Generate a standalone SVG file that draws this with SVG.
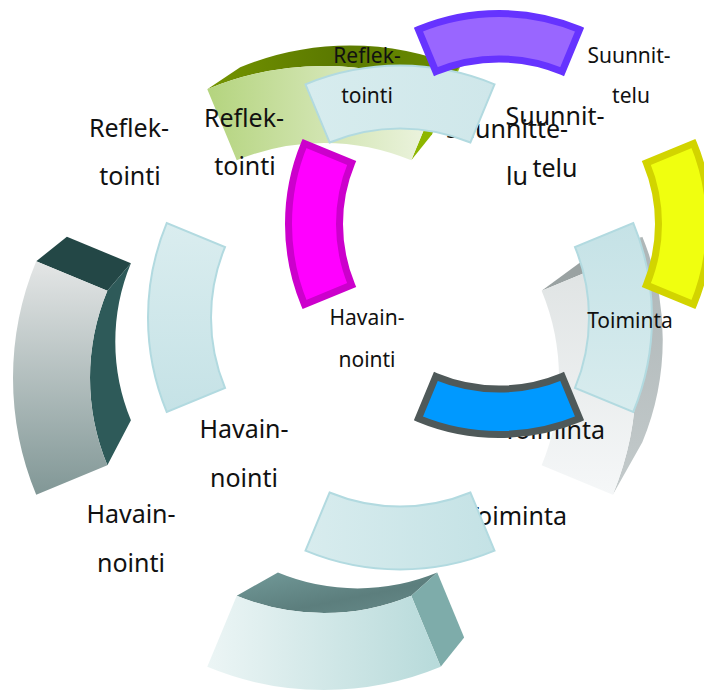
<svg xmlns="http://www.w3.org/2000/svg" width="704" height="690" viewBox="0 0 704 690">
  <defs>
    <!-- extruded ring faces -->
    <linearGradient id="leftFront" x1="0" y1="0" x2="0" y2="1">
      <stop offset="0" stop-color="#E4E6E6"/>
      <stop offset="1" stop-color="#819796"/>
    </linearGradient>
    <linearGradient id="bottomFront" x1="0" y1="0" x2="1" y2="0">
      <stop offset="0" stop-color="#ECF5F5"/>
      <stop offset="1" stop-color="#B7DADA"/>
    </linearGradient>
    <linearGradient id="bottomTop" x1="0" y1="0" x2="1" y2="1">
      <stop offset="0" stop-color="#729A99"/>
      <stop offset="0.6" stop-color="#5C7E7D"/>
      <stop offset="1" stop-color="#678B8A"/>
    </linearGradient>
    <linearGradient id="rightFront" x1="0" y1="0" x2="0" y2="1">
      <stop offset="0" stop-color="#DFE3E3"/>
      <stop offset="1" stop-color="#F5F7F8"/>
    </linearGradient>
    <linearGradient id="rightSide" x1="0" y1="0" x2="0" y2="1">
      <stop offset="0" stop-color="#AEB6B7"/>
      <stop offset="1" stop-color="#C3CACB"/>
    </linearGradient>
    <linearGradient id="topFront" x1="0" y1="0" x2="1" y2="0">
      <stop offset="0" stop-color="#B4D47E"/>
      <stop offset="1" stop-color="#EFF5E4"/>
    </linearGradient>
    <linearGradient id="topTop" x1="0" y1="0" x2="1" y2="0">
      <stop offset="0" stop-color="#749400"/>
      <stop offset="0.5" stop-color="#5B7900"/>
      <stop offset="1" stop-color="#6A8C00"/>
    </linearGradient>
    <!-- flat pale ring -->
    <linearGradient id="paleV" x1="0" y1="0" x2="0" y2="1">
      <stop offset="0" stop-color="#DAEDEF"/>
      <stop offset="1" stop-color="#C5E2E6"/>
    </linearGradient>
    <linearGradient id="paleVr" x1="0" y1="0" x2="0" y2="1">
      <stop offset="0" stop-color="#C5E2E6"/>
      <stop offset="1" stop-color="#D8ECEE"/>
    </linearGradient>
    <linearGradient id="paleH" x1="0" y1="0" x2="1" y2="0">
      <stop offset="0" stop-color="#D8ECEE"/>
      <stop offset="1" stop-color="#C4E2E5"/>
    </linearGradient>
    <linearGradient id="paleHt" x1="0" y1="0" x2="1" y2="0">
      <stop offset="0" stop-color="#D7ECEE"/>
      <stop offset="1" stop-color="#CFE7EA"/>
    </linearGradient>
    <style>
      text { font-family: "Noto Sans", "DejaVu Sans", sans-serif; fill: #111; text-anchor: middle; }
      .big { font-size: 25px; }
      .small { font-size: 21px; }
      .pale { stroke: #B2DAE0; stroke-width: 2; }
      .solid { stroke-width: 7; stroke-linejoin: miter; }
    </style>
  </defs>

  <!-- extruded ring -->
  <g id="ring3d">
    <g id="seg3d-top">
      <path d="M207.28,89.22 A305,305 0 0 1 440.72,89.22 L459.85,67.26 A287,287 0 0 0 240.19,67.26 Z" fill="url(#topTop)"/>
      <path d="M440.72,89.22 L459.85,67.26 L432.12,134.20 L411.25,160.36 Z" fill="#8DB600"/>
      <path d="M207.28,89.22 A305,305 0 0 1 440.72,89.22 L411.25,160.36 A228,228 0 0 0 236.75,160.36 Z" fill="url(#topFront)"/>
    </g>
    <g id="seg3d-right">
      <path d="M612.78,261.28 A305,305 0 0 1 612.78,494.72 L642.33,442.19 A268.4,268.4 0 0 0 642.33,236.77 Z" fill="url(#rightSide)"/>
      <path d="M541.64,290.75 L579.72,262.70 L642.33,236.77 L612.78,261.28 Z" fill="#9AA2A2"/>
      <path d="M541.64,290.75 L612.78,261.28 A305,305 0 0 1 612.78,494.72 L541.64,465.25 A228,228 0 0 0 541.64,290.75 Z" fill="url(#rightFront)"/>
    </g>
    <g id="seg3d-bottom">
      <path d="M236.75,595.64 A228,228 0 0 0 411.25,595.64 L437.24,572.53 A208.16,208.16 0 0 1 277.92,572.53 Z" fill="url(#bottomTop)"/>
      <path d="M411.25,595.64 L437.24,572.53 L464.15,637.48 L440.72,666.78 Z" fill="#7EACAA"/>
      <path d="M236.75,595.64 A228,228 0 0 0 411.25,595.64 L440.72,666.78 A305,305 0 0 1 207.28,666.78 Z" fill="url(#bottomFront)"/>
    </g>
    <g id="seg3d-left">
      <path d="M36.22,261.28 L66.90,236.75 L130.92,263.27 L107.36,290.75 Z" fill="#234746"/>
      <path d="M107.36,290.75 A228,228 0 0 0 107.36,465.25 L130.92,420.32 A205.2,205.2 0 0 1 130.92,263.27 Z" fill="#2E5A59"/>
      <path d="M36.22,261.28 A305,305 0 0 0 36.22,494.72 L107.36,465.25 A228,228 0 0 1 107.36,290.75 Z" fill="url(#leftFront)"/>
    </g>
  </g>
  <g id="labels3d" class="big">
    <text x="129" y="137">Reflek-</text>
    <text x="130" y="185">tointi</text>
    <text x="131" y="523">Havain-</text>
    <text x="131" y="572">nointi</text>
    <text x="516" y="525">Toiminta</text>
    <text x="507" y="138">Suunnitte-</text>
    <text x="517" y="185">lu</text>
  </g>

  <!-- flat pale ring -->
  <g id="ringPale">
    <g id="pale-top"><path class="pale" fill="url(#paleHt)" d="M305.48,84.30 A247,247 0 0 1 494.52,84.30 L470.41,142.5 A184,184 0 0 0 329.59,142.5 Z"/></g>
    <g id="pale-right"><path class="pale" fill="url(#paleVr)" d="M633.20,222.98 A247,247 0 0 1 633.20,412.02 L575,387.91 A184,184 0 0 0 575,247.09 Z"/></g>
    <g id="pale-bottom"><path class="pale" fill="url(#paleH)" d="M494.52,550.70 A247,247 0 0 1 305.48,550.70 L329.59,492.5 A184,184 0 0 0 470.41,492.5 Z"/></g>
    <g id="pale-left"><path class="pale" fill="url(#paleV)" d="M166.80,412.02 A247,247 0 0 1 166.80,222.98 L225,247.09 A184,184 0 0 0 225,387.91 Z"/></g>
  </g>
  <g id="labelsPale" class="big">
    <text x="244" y="127">Reflek-</text>
    <text x="245" y="175">tointi</text>
    <text x="244" y="438">Havain-</text>
    <text x="244" y="487">nointi</text>
    <text x="554" y="439">Toiminta</text>
    <text x="555" y="125">Suunnit-</text>
    <text x="555" y="177">telu</text>
  </g>

  <!-- coloured ring -->
  <g id="ringColour">
    <g id="col-top"><path class="solid" fill="#9966FF" stroke="#6633FF" d="M418.45,29.52 A210.5,210.5 0 0 1 579.55,29.52 L562.14,71.56 A165,165 0 0 0 435.86,71.56 Z"/></g>
    <g id="col-right"><path class="solid" fill="#F0FF0F" stroke="#D2D400" d="M693.48,143.45 A210.5,210.5 0 0 1 693.48,304.55 L646.36,285.04 A159.5,159.5 0 0 0 646.36,162.96 Z"/></g>
    <g id="col-bottom"><path class="solid" fill="#0099FF" stroke="#4F5959" d="M579.55,418.48 A210.5,210.5 0 0 1 418.45,418.48 L435.86,376.44 A165,165 0 0 0 562.14,376.44 Z"/></g>
    <g id="col-left"><path class="solid" fill="#FF00FF" stroke="#CC00CC" d="M304.52,304.55 A210.5,210.5 0 0 1 304.52,143.45 L351.64,162.96 A159.5,159.5 0 0 0 351.64,285.04 Z"/></g>
  </g>
  <g id="labelsColour" class="small">
    <text x="367" y="63">Reflek-</text>
    <text x="367" y="103">tointi</text>
    <text x="629" y="63">Suunnit-</text>
    <text x="631" y="103">telu</text>
    <text x="630" y="328">Toiminta</text>
    <text x="367" y="325">Havain-</text>
    <text x="367" y="367">nointi</text>
  </g>
</svg>
